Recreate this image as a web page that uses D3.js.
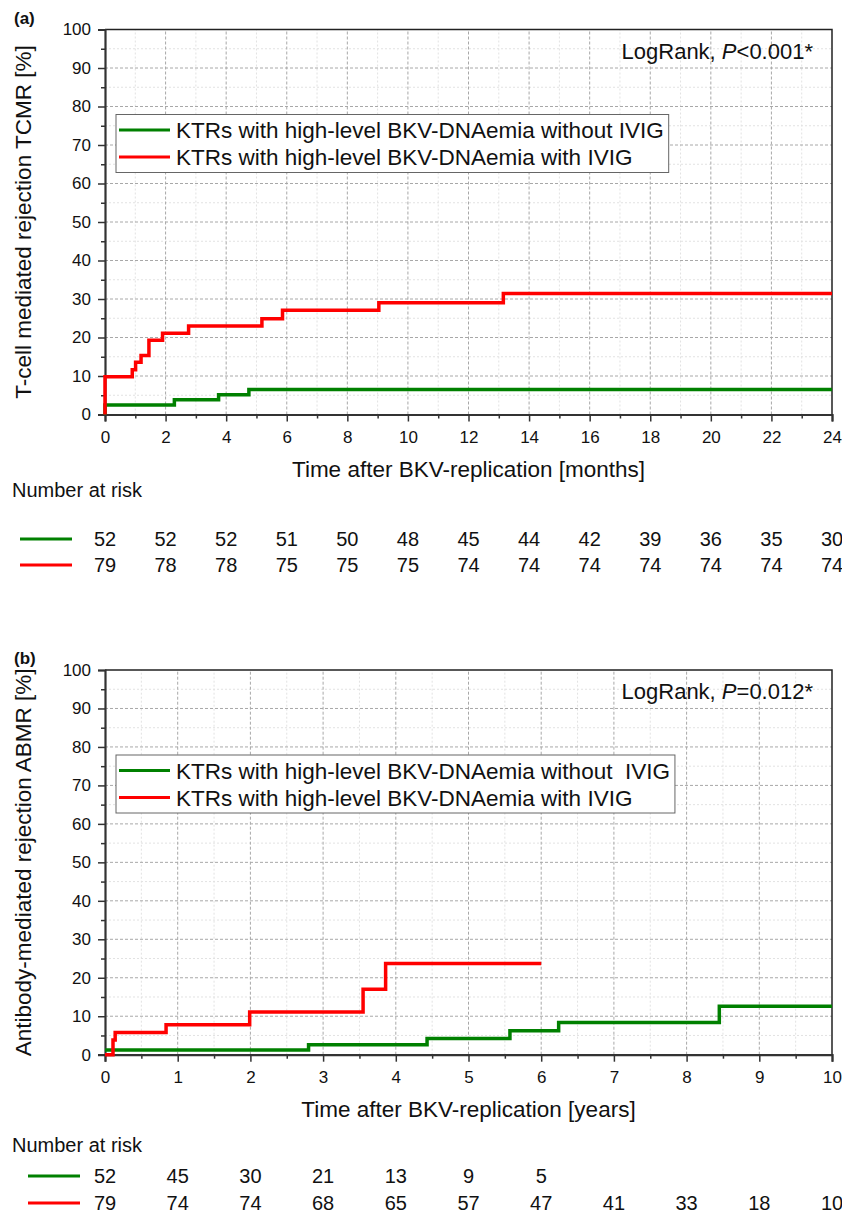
<!DOCTYPE html>
<html>
<head>
<meta charset="utf-8">
<title>BKV rejection</title>
<script src="https://d3js.org/d3.v7.min.js"></script>
<style>
  body { margin: 0; background: #fff; }
  svg { display: block; font-family: "Liberation Sans", Arial, sans-serif; }
  .tick text { font-size: 17px; fill: #111; }
</style>
</head>
<body>
<script>
// ---- data ----
var seriesNames = ["KTRs with high-level BKV-DNAemia without IVIG", "KTRs with high-level BKV-DNAemia with IVIG"];
var seriesNamesB = ["KTRs with high-level BKV-DNAemia without  IVIG", "KTRs with high-level BKV-DNAemia with IVIG"];
var colors = ["#008000", "#ff0000"];

// (a) TCMR, months
var tcmrNoIvigTime = [0, 0, 2.29, 3.75, 4.75, 24];
var tcmrNoIvigPct  = [0, 2.5, 3.8, 5.1, 6.5, 6.5];
var tcmrIvigTime = [0, 0, 0.9, 1.01, 1.19, 1.45, 1.9, 2.76, 5.18, 5.86, 9.04, 13.15, 24];
var tcmrIvigPct  = [0, 9.8, 11.6, 13.6, 15.3, 19.3, 21.1, 23.0, 24.9, 27.1, 29.0, 31.4, 31.4];
var tcmrRiskTimes = [0, 2, 4, 6, 8, 10, 12, 14, 16, 18, 20, 22, 24];
var tcmrRiskNoIvig = [52, 52, 52, 51, 50, 48, 45, 44, 42, 39, 36, 35, 30];
var tcmrRiskIvig   = [79, 78, 78, 75, 75, 75, 74, 74, 74, 74, 74, 74, 74];

// (b) ABMR, years
var abmrNoIvigTime = [0, 2.8, 4.43, 5.57, 6.24, 8.45, 10];
var abmrNoIvigPct  = [1.2, 2.6, 4.2, 6.2, 8.4, 12.6, 12.6];
var abmrIvigTime = [0, 0.11, 0.14, 0.84, 1.99, 3.55, 3.86, 6.0];
var abmrIvigPct  = [0, 3.8, 5.8, 7.8, 11.1, 17.0, 23.7, 23.7];
var abmrRiskTimes = [0, 1, 2, 3, 4, 5, 6, 7, 8, 9, 10];
var abmrRiskNoIvig = [52, 45, 30, 21, 13, 9, 5];
var abmrRiskIvig   = [79, 74, 74, 68, 65, 57, 47, 41, 33, 18, 10];

var yMajor = [0, 10, 20, 30, 40, 50, 60, 70, 80, 90, 100];
var yMinor = [5, 15, 25, 35, 45, 55, 65, 75, 85, 95];

var svg = d3.select("body").append("svg")
  .attr("width", 842)
  .attr("height", 1216);

function zip(t, v) {
  return t.map(function(d, i) { return [d, v[i]]; });
}

function drawPanel(cfg) {
  var left = 105, right = 832;
  var x = d3.scaleLinear().domain([0, cfg.xMax]).range([left, right]);
  var y = d3.scaleLinear().domain([0, 100]).range([cfg.bottom, cfg.top]);
  var g = svg.append("g");

  // grid
  g.selectAll(".gminx").data(cfg.xMinor).enter().append("line")
    .attr("x1", d => x(d)).attr("x2", d => x(d))
    .attr("y1", y(0)).attr("y2", y(100))
    .attr("stroke", "#e2e2e2").attr("stroke-dasharray", "2,2");
  g.selectAll(".gminy").data(yMinor).enter().append("line")
    .attr("x1", x(0)).attr("x2", x(cfg.xMax))
    .attr("y1", d => y(d)).attr("y2", d => y(d))
    .attr("stroke", "#e2e2e2").attr("stroke-dasharray", "2,2");
  g.selectAll(".gmajx").data(cfg.xMajor.slice(1, -1)).enter().append("line")
    .attr("x1", d => x(d)).attr("x2", d => x(d))
    .attr("y1", y(0)).attr("y2", y(100))
    .attr("stroke", "#a8a8a8").attr("stroke-dasharray", "3,2");
  g.selectAll(".gmajy").data(yMajor.slice(1, -1)).enter().append("line")
    .attr("x1", x(0)).attr("x2", x(cfg.xMax))
    .attr("y1", d => y(d)).attr("y2", d => y(d))
    .attr("stroke", "#a8a8a8").attr("stroke-dasharray", "3,2");

  // top/right frame
  g.append("path")
    .attr("d", "M" + x(0) + "," + y(100) + "H" + x(cfg.xMax) + "V" + y(0))
    .attr("fill", "none").attr("stroke", "#222").attr("stroke-width", 1.5);

  // axes: minor ticks then major ticks
  var xMinAx = g.append("g").attr("transform", "translate(0," + y(0) + ")")
    .call(d3.axisBottom(x).tickValues(cfg.xMinor).tickSize(4).tickFormat(""));
  var xAx = g.append("g").attr("transform", "translate(0," + y(0) + ")")
    .call(d3.axisBottom(x).tickValues(cfg.xMajor).tickSize(7).tickPadding(6).tickFormat(d3.format("d")));
  var yMinAx = g.append("g").attr("transform", "translate(" + x(0) + ",0)")
    .call(d3.axisLeft(y).tickValues(yMinor).tickSize(4).tickFormat(""));
  var yAx = g.append("g").attr("transform", "translate(" + x(0) + ",0)")
    .call(d3.axisLeft(y).tickValues(yMajor).tickSize(7).tickPadding(7).tickFormat(d3.format("d")));
  [xMinAx, yMinAx].forEach(a => a.select(".domain").remove());
  [xMinAx, xAx, yMinAx, yAx].forEach(function(a) {
    a.selectAll(".tick line").attr("stroke", "#333").attr("stroke-width", 1.5);
    a.select(".domain").attr("stroke", "#333").attr("stroke-width", 2.2);
    a.selectAll(".tick text").style("font-size", "17px").attr("fill", "#111");
  });
  xAx.selectAll(".tick text").attr("dy", "0.9em");

  // curves on top of the axes, as in the original
  var line = d3.line().x(d => x(d[0])).y(d => y(d[1])).curve(d3.curveStepAfter);
  cfg.curves.forEach(function(c, i) {
    g.append("path")
      .attr("d", line(c))
      .attr("fill", "none")
      .attr("stroke", colors[i])
      .attr("stroke-width", 3.5);
  });

  // axis titles
  g.append("text")
    .attr("x", (left + right) / 2).attr("y", cfg.bottom + 62)
    .attr("text-anchor", "middle").style("font-size", "22.5px").attr("fill", "#111")
    .text(cfg.xTitle);
  g.append("text")
    .attr("transform", "translate(31," + ((cfg.top + cfg.bottom) / 2) + ") rotate(-90)")
    .attr("text-anchor", "middle").style("font-size", "22.5px").attr("fill", "#111")
    .text(cfg.yTitle);

  // panel letter
  g.append("text")
    .attr("x", 14).attr("y", cfg.top - 6)
    .style("font-size", "17px").style("font-weight", "bold").attr("fill", "#111")
    .text(cfg.letter);

  // LogRank
  var lr = g.append("text")
    .attr("x", 813).attr("y", cfg.top + 29)
    .attr("text-anchor", "end").style("font-size", "22px").attr("fill", "#111");
  lr.append("tspan").text("LogRank, ");
  lr.append("tspan").style("font-style", "italic").text("P");
  lr.append("tspan").text(cfg.pText);

  // legend
  var lg = g.append("g");
  var box = lg.append("rect")
    .attr("x", 116).attr("y", cfg.top + 85)
    .attr("height", 58)
    .attr("fill", "#fff").attr("stroke", "#666").attr("stroke-width", 1);
  var maxW = 0;
  cfg.names.forEach(function(n, i) {
    var ly = cfg.top + 100.5 + i * 27;
    lg.append("line")
      .attr("x1", 119).attr("x2", 170).attr("y1", ly).attr("y2", ly)
      .attr("stroke", colors[i]).attr("stroke-width", 3);
    var t = lg.append("text")
      .attr("x", 176).attr("y", ly + 8)
      .style("font-size", "22.5px").style("white-space", "pre").attr("fill", "#111")
      .text(n);
    maxW = Math.max(maxW, t.node().getComputedTextLength());
  });
  box.attr("width", 176 + maxW + 5 - 116);

  // number at risk
  var r = g.append("g");
  r.append("text")
    .attr("x", 12).attr("y", cfg.riskTop)
    .style("font-size", "20px").attr("fill", "#111")
    .text("Number at risk");
  [cfg.riskNo, cfg.riskIvig].forEach(function(arr, i) {
    var ry = cfg.riskTop + cfg.riskGap + i * cfg.riskStep;
    r.append("line")
      .attr("x1", cfg.riskLineX).attr("x2", cfg.riskLineX + 52)
      .attr("y1", ry).attr("y2", ry)
      .attr("stroke", colors[i]).attr("stroke-width", 3);
    r.selectAll(".n" + i).data(arr).enter().append("text")
      .attr("x", (d, j) => x(cfg.riskTimes[j]))
      .attr("y", ry + 7)
      .attr("text-anchor", "middle")
      .style("font-size", "20px").attr("fill", "#111")
      .text(d => d);
  });
}

drawPanel({
  letter: "(a)", top: 29.5, bottom: 414.5, xMax: 24,
  xMajor: d3.range(0, 25, 2), xMinor: d3.range(1, 24, 2),
  xTitle: "Time after BKV-replication [months]",
  yTitle: "T-cell mediated rejection TCMR [%]",
  pText: "<0.001*",
  names: seriesNames,
  curves: [zip(tcmrNoIvigTime, tcmrNoIvigPct), zip(tcmrIvigTime, tcmrIvigPct)],
  riskTop: 497, riskGap: 42, riskStep: 26, riskLineX: 20,
  riskTimes: tcmrRiskTimes, riskNo: tcmrRiskNoIvig, riskIvig: tcmrRiskIvig
});

drawPanel({
  letter: "(b)", top: 670, bottom: 1054.7, xMax: 10,
  xMajor: d3.range(0, 11, 1), xMinor: d3.range(0.5, 10, 1),
  xTitle: "Time after BKV-replication [years]",
  yTitle: "Antibody-mediated rejection ABMR [%]",
  pText: "=0.012*",
  names: seriesNamesB,
  curves: [zip(abmrNoIvigTime, abmrNoIvigPct), zip(abmrIvigTime, abmrIvigPct)],
  riskTop: 1152, riskGap: 24, riskStep: 27, riskLineX: 28,
  riskTimes: abmrRiskTimes, riskNo: abmrRiskNoIvig, riskIvig: abmrRiskIvig
});
</script>
</body>
</html>
